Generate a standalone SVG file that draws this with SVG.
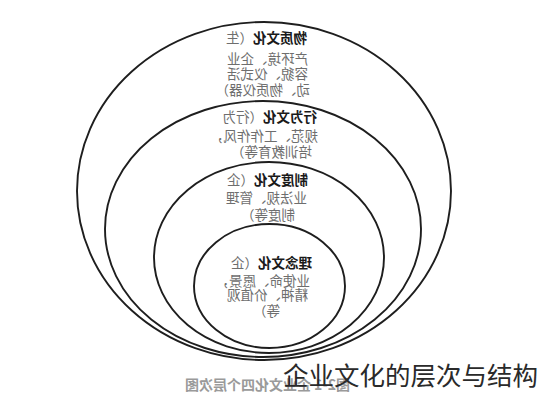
<svg xmlns="http://www.w3.org/2000/svg" width="539" height="400" viewBox="0 0 539 400">
<style>
.ring{fill:none;stroke:#1e1e1e;stroke-width:1.9}
.hd{font-family:"Noto Sans CJK SC","Noto Sans CJK JP",sans-serif;font-size:13.5px;font-weight:bold;fill:#1a1a1a}
.bd{font-family:"Noto Sans CJK SC","Noto Sans CJK JP",sans-serif;font-size:13.5px;fill:#6e6e6e}
.cap{font-family:"Noto Sans CJK SC","Noto Sans CJK JP",sans-serif;font-size:14px;font-weight:bold;fill:#9a9a9a}
.title{font-family:"Noto Sans CJK SC","Noto Sans CJK JP",sans-serif;font-size:25.5px;fill:#2a2a2a}
</style>
<rect width="539" height="400" fill="#ffffff"/>
<g id="mirrored" transform="matrix(-1 0 0 1 539 0)">
  <g id="node-material">
    <ellipse class="ring" cx="275" cy="191" rx="187" ry="169"/>
    <text class="bd" x="232" y="43"><tspan class="hd">物质文化</tspan>（生</text>
    <text class="bd" x="231" y="64">产环境、企业</text>
    <text class="bd" x="231" y="79">容貌、仪式活</text>
    <text class="bd" x="229" y="95">动、物质仪器）</text>
  </g>
  <g id="node-behavior">
    <ellipse class="ring" cx="276" cy="229" rx="158" ry="128"/>
    <text class="bd" x="222" y="122"><tspan class="hd">行为文化</tspan>（行为</text>
    <text class="bd" x="221" y="141">规范、工作作风，</text>
    <text class="bd" x="227" y="157">培训教育等）</text>
  </g>
  <g id="node-system">
    <ellipse class="ring" cx="270" cy="257.5" rx="115" ry="95.5"/>
    <text class="bd" x="231" y="185"><tspan class="hd">制度文化</tspan>（企</text>
    <text class="bd" x="232" y="203">业法规、管理</text>
    <text class="bd" x="244" y="220">制度等）</text>
  </g>
  <g id="node-idea">
    <ellipse class="ring" cx="269.5" cy="286" rx="75.5" ry="62"/>
    <text class="bd" x="227" y="268"><tspan class="hd">理念文化</tspan>（企</text>
    <text class="bd" x="229" y="286">业使命、愿景，</text>
    <text class="bd" x="231" y="300">精神、价值观</text>
    <text class="bd" x="259" y="316">等）</text>
  </g>
  <g id="caption">
    <text class="cap" x="189" y="390">图2-1 企业文化四个层次图</text>
  </g>
</g>
<g id="connectors"/>
<g id="title">
  <text class="title" x="283" y="385">企业文化的层次与结构</text>
</g>
</svg>
